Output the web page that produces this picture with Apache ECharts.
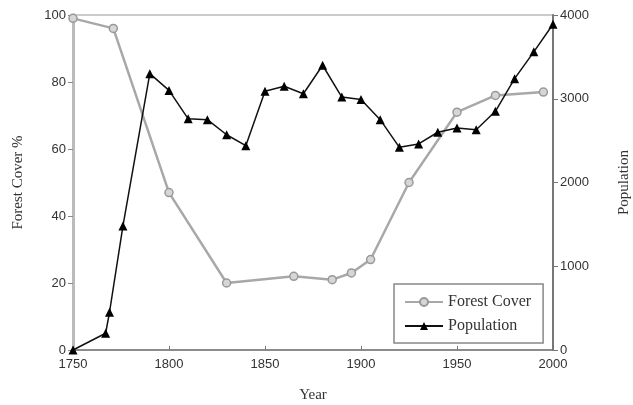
<!DOCTYPE html>
<html>
<head>
<meta charset="utf-8">
<script src="https://cdn.jsdelivr.net/npm/echarts@6/dist/echarts.min.js"></script>
<style>html,body{margin:0;padding:0;background:#fff}#c{width:633px;height:405px}</style>
</head>
<body>
<div id="c"></div>
<script>
const forestYears = [1750, 1771, 1800, 1830, 1865, 1885, 1895, 1905, 1925, 1950, 1970, 1995];
const forestCover = [99, 96, 47, 20, 22, 21, 23, 27, 50, 71, 76, 77];
const popYears = [1750, 1767, 1769, 1776, 1790, 1800, 1810, 1820, 1830, 1840, 1850, 1860, 1870, 1880, 1890, 1900, 1910, 1920, 1930, 1940, 1950, 1960, 1970, 1980, 1990, 2000];
const population = [0, 200, 450, 1480, 3300, 3100, 2760, 2750, 2570, 2440, 3090, 3150, 3060, 3400, 3020, 2990, 2750, 2420, 2460, 2600, 2650, 2630, 2850, 3240, 3560, 3890];

const chart = echarts.init(document.getElementById('c'));
const plain = v => String(v);
const tickFont = {fontFamily: 'Liberation Sans, Arial, sans-serif', fontSize: 13, color: '#333', formatter: plain};
const titleFont = {fontFamily: 'Liberation Serif, Times New Roman, serif', fontSize: 15, color: '#333'};
chart.setOption({
  animation: false,
  grid: {left: 73, right: 80, top: 15, bottom: 55, outerBoundsMode: 'none', containLabel: false,
         show: true, borderColor: '#999', borderWidth: 1, backgroundColor: 'transparent'},
  legend: {
    orient: 'vertical', left: 394, top: 284, width: 148,
    padding: [10, 12, 9, 10], itemGap: 8, itemWidth: 38, itemHeight: 10,
    borderColor: '#888', borderWidth: 1.5, backgroundColor: '#fff',
    textStyle: {fontFamily: 'Liberation Serif, Times New Roman, serif', fontSize: 16, color: '#333'},
    data: ['Forest Cover', 'Population']
  },
  xAxis: {
    type: 'value', min: 1750, max: 2000, interval: 50,
    name: 'Year', nameLocation: 'middle', nameGap: 38, nameTextStyle: titleFont,
    axisLine: {lineStyle: {color: '#777', width: 1.5}},
    axisTick: {inside: true, length: 4, lineStyle: {color: '#777'}},
    axisLabel: Object.assign({margin: 8}, tickFont),
    splitLine: {show: false}
  },
  yAxis: [{
    type: 'value', min: 0, max: 100, interval: 20,
    name: 'Forest Cover %', nameLocation: 'middle', nameGap: 47, nameTextStyle: titleFont,
    axisLine: {show: true, lineStyle: {color: '#bbb', width: 3}},
    axisTick: {show: true, length: 5, lineStyle: {color: '#888'}},
    axisLabel: Object.assign({margin: 7}, tickFont),
    splitLine: {show: false}
  }, {
    type: 'value', min: 0, max: 4000, interval: 1000,
    name: 'Population', nameLocation: 'middle', nameGap: 64, nameTextStyle: titleFont,
    axisLine: {show: true, lineStyle: {color: '#777', width: 2}},
    axisTick: {show: true, length: 5, lineStyle: {color: '#777'}},
    axisLabel: Object.assign({margin: 7}, tickFont),
    splitLine: {show: false}
  }],
  series: [{
    name: 'Forest Cover', type: 'line', yAxisIndex: 0,
    data: forestYears.map((y, i) => [y, forestCover[i]]),
    symbol: 'circle', symbolSize: 8,
    lineStyle: {color: '#a8a8a8', width: 2.5},
    itemStyle: {color: '#d6d6d6', borderColor: '#999', borderWidth: 1.5},
    z: 2
  }, {
    name: 'Population', type: 'line', yAxisIndex: 1,
    data: popYears.map((y, i) => [y, population[i]]),
    symbol: 'triangle', symbolSize: 9,
    lineStyle: {color: '#111', width: 1.5},
    itemStyle: {color: '#000'},
    z: 3
  }]
});
</script>
</body>
</html>
